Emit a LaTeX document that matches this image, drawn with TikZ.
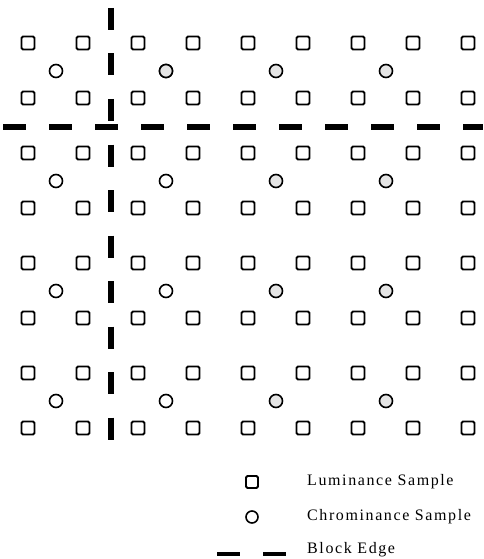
\documentclass[tikz,border=0pt]{standalone}
\usepackage{fontspec}
\setmainfont{Liberation Serif}[LetterSpace=10]
\usetikzlibrary{positioning}

\begin{document}
\begin{tikzpicture}[
    x=1pt, y=-1pt,
    lumsq/.style={draw=black, line width=1.8pt, rounded corners=1.5pt, minimum size=13pt, inner sep=0pt},
    chromcirc/.style={draw=black, circle, line width=1.6pt, minimum size=13pt, inner sep=0pt},
    dotted chrom/.style={chromcirc, fill=black!10},
    blockedge/.style={line width=6pt, dash pattern=on 23pt off 23pt},
    vedge/.style={line width=6pt, dash pattern=on 22pt off 23.5pt},
    keytext/.style={font=\fontsize{16}{19}\selectfont, anchor=west, inner sep=0pt}
]
\useasboundingbox (0,0) rectangle (483,559);

% Luminance grid: 9 columns, 8 rows
\foreach \r in {0,...,7} {
    \foreach \c in {0,...,8} {
        \node[lumsq] (lum-\r-\c) at (28+55*\c, 43+55*\r) {};
    }
}

% Chrominance samples (one per 2x2 block)
\foreach \r/\yy in {0/71, 1/181, 2/291, 3/401} {
    \node[chromcirc] (chr-\r-0) at (56, \yy) {};
    \node[chromcirc] (chr-\r-1) at (166, \yy) {};
    \node[dotted chrom] (chr-\r-2) at (276, \yy) {};
    \node[dotted chrom] (chr-\r-3) at (386, \yy) {};
}
\node[dotted chrom] at (chr-0-1) {};

% Block edges
\coordinate (vtop) at (111, 8);
\coordinate (vbot) at (111, 440);
\coordinate (hleft) at (3, 127);
\coordinate (hright) at (483, 127);
\draw[vedge] (vtop) -- (vbot);
\draw[blockedge] (hleft) -- (hright);

% Legend
\node[lumsq, minimum size=12pt] (key-lum) at (252, 482) {};
\node[chromcirc, minimum size=12pt] (key-chr) at (252, 517) {};
\coordinate (key-e1) at (217, 554);
\coordinate (key-e2) at (286, 554);
\draw[line width=4.5pt, dash pattern=on 23pt off 23pt] (key-e1) -- (key-e2);
\node[keytext] (lum-text) at (307, 482) {Luminance Sample};
\node[keytext] (chr-text) at (307, 517) {Chrominance Sample};
\node[keytext] (edge-text) at (307, 550) {Block Edge};

\end{tikzpicture}
\end{document}
